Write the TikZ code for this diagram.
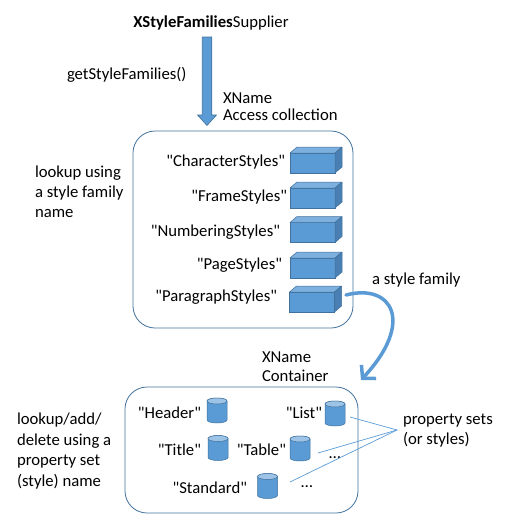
\documentclass[tikz,border=0pt]{standalone}
\usepackage{fontspec}
\setmainfont{Carlito}
\usetikzlibrary{arrows.meta,calc}
\definecolor{ofblue}{HTML}{5B9BD5}
\definecolor{ofline}{HTML}{41719C}
\definecolor{oftop}{HTML}{7EB0DF}
\definecolor{ofside}{HTML}{4A7FB3}
\definecolor{cyltop}{HTML}{9DC3E6}
\definecolor{boxline}{HTML}{41719C}
\newcommand\dquo{\textquotedbl}
\newcommand\stylecube[3]{%
  \node[cubefront] (#1) at (#2,#3) {};
  \draw[cubetop] (#1.north west) -- (#1.north east) -- ++(7,-6) -- ++(-45,0) -- cycle;
  \draw[cubeside] (#1.north east) -- ++(7,-6) -- ++(0,20) -- (#1.south east) -- cycle;
}
\newcommand\stylecyl[3]{%
  \node[cylbox] (#1) at (#2,#3) {};
  \draw[cylbody] ($(#1.north west)+(0,3)$) -- ($(#1.south west)+(0,-3)$)
    arc[start angle=180, end angle=0, x radius=10, y radius=3]
    -- ($(#1.north east)+(0,3)$)
    arc[start angle=0, end angle=-180, x radius=10, y radius=3] -- cycle;
  \draw[cylend] ($(#1.north)+(0,3)$) ellipse[x radius=10, y radius=3];
}
\begin{document}
\begin{tikzpicture}[x=1pt,y=-1pt,
  every node/.style={font=\fontsize{16.7}{20}\selectfont, inner sep=0pt, outer sep=0pt, text=black},
  txt/.style={align=left, anchor=west},
  lbl/.style={anchor=east},
  cubefront/.style={draw=ofline, fill=ofblue, minimum width=45pt, minimum height=20pt, line width=0.5pt},
  cubetop/.style={fill=oftop, draw=ofline, line width=0.5pt, line join=round},
  cubeside/.style={fill=ofside, draw=ofline, line width=0.5pt, line join=round},
  cylbox/.style={minimum width=20pt, minimum height=25pt},
  cylbody/.style={fill=ofblue, draw=ofline, line width=0.5pt},
  cylend/.style={fill=cyltop, draw=ofline, line width=0.5pt},
  container/.style={draw=boxline, rounded corners=22pt, line width=0.8pt},
  bigarrow/.style={fill=ofblue, draw=ofline, line width=0.6pt},
  famarrow/.style={draw=ofblue, line width=3.5pt, line cap=round, -{Straight Barb[length=9pt,width=20pt]}},
  pointer/.style={draw=ofblue, line width=0.7pt},
]
\useasboundingbox (0,0) rectangle (515,531);

% containers
\node[container, minimum width=220pt, minimum height=197pt] (coll) at (243,229.5) {};
\node[container, minimum width=233pt, minimum height=126pt] (cont) at (241.5,450) {};

% top text and arrow
\node (supplier) at (211,23) {\textbf{XStyleFamilies}Supplier};
\coordinate (atop) at (207,37);
\draw[bigarrow] ($(atop)+(-4.75,0)$) -- ++(9.5,0) -- ++(0,78) -- ++(4.75,0)
  -- ++(-9.5,10.5) -- ++(-9.5,-10.5) -- ++(4.75,0) -- cycle;
\node[txt] (getsf) at (67,75) {getStyleFamilies()};
\node[txt, font=\fontsize{16.7}{17.3}\selectfont] (xnac) at (223,106.5) {XName\\Access collection};

% left texts
\node[txt] (lk1) at (35,192) {lookup using\\a style family\\name};
\node[txt, font=\fontsize{16.7}{20.7}\selectfont] (lk2) at (17,451) {lookup/add/\\delete using a\\property set\\(style) name};

% cubes
\stylecube{c1}{312.5}{163}
\stylecube{c2}{312.5}{198}
\stylecube{c3}{312.5}{232.5}
\stylecube{c4}{312.5}{268}
\stylecube{c5}{312}{302}
\node[lbl] (l1) at (285,162) {\dquo CharacterStyles\dquo};
\node[lbl] (l2) at (287,197) {\dquo FrameStyles\dquo};
\node[lbl] (l3) at (280,232) {\dquo NumberingStyles\dquo};
\node[lbl] (l4) at (282,265) {\dquo PageStyles\dquo};
\node[lbl] (l5) at (277,297) {\dquo ParagraphStyles\dquo};

% family arrow
\node[txt] (fam) at (372,280) {a style family};
\coordinate (famstart) at (346,295);
\coordinate (famend) at (361,380);
\draw[famarrow] (famstart) .. controls (392,283) and (415,322) .. (famend);
\node[txt, font=\fontsize{16.7}{19}\selectfont] (xncont) at (262,366.5) {XName\\Container};

% cylinders
\stylecyl{cyH}{217}{410.5}
\stylecyl{cyL}{335}{413.5}
\stylecyl{cyTi}{218}{448}
\stylecyl{cyTa}{300}{448.5}
\stylecyl{cyS}{267.5}{486}
\node[lbl] (lH) at (201,413) {\dquo Header\dquo};
\node[lbl] (lL) at (322,413) {\dquo List\dquo};
\node[lbl] (lTi) at (201,450) {\dquo Title\dquo};
\node[lbl] (lTa) at (286,450) {\dquo Table\dquo};
\node[lbl] (lS) at (247,488) {\dquo Standard\dquo};
\node (dots1) at (335,458) {…};
\node (dots2) at (307,487) {…};

% property sets
\node[txt] (props) at (403,431) {property sets\\(or styles)};
\coordinate (pj) at (397,430);
\coordinate (pL) at (350,417);
\coordinate (pTa) at (318,453);
\coordinate (pS) at (290,482);
\draw[pointer] (pL) -- (pj) -- (pTa);
\draw[pointer] (pj) -- (pS);
\end{tikzpicture}
\end{document}
